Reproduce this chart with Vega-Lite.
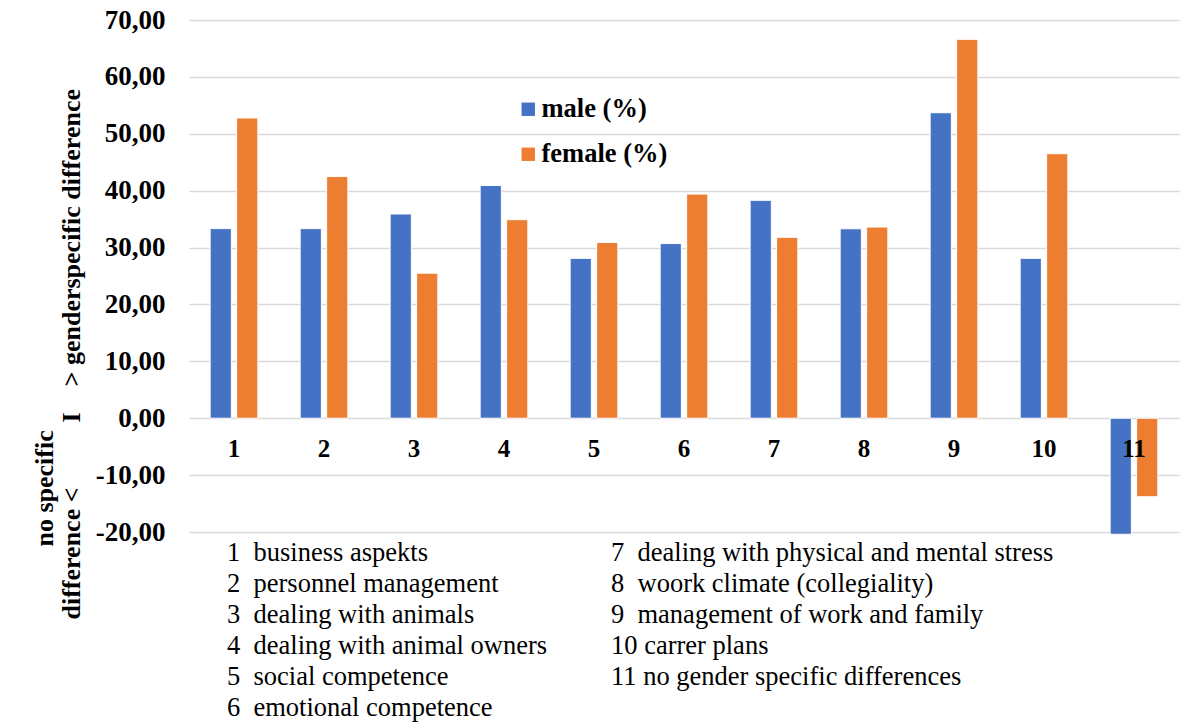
{
  "$schema": "https://vega.github.io/schema/vega-lite/v6.json",
  "background": "white",
  "padding": {"left": 31, "top": 6, "right": 10, "bottom": 0},
  "autosize": {"type": "pad"},
  "spacing": 0,
  "bounds": "flush",
  "config": {"view": {"stroke": null}, "font": "'Liberation Serif', 'Times New Roman', serif"},
  "datasets": {
    "bars": [
      {"cat": "1", "gender": "male (%)", "value": 33.33},
      {"cat": "1", "gender": "female (%)", "value": 52.78},
      {"cat": "2", "gender": "male (%)", "value": 33.33},
      {"cat": "2", "gender": "female (%)", "value": 42.5},
      {"cat": "3", "gender": "male (%)", "value": 35.9},
      {"cat": "3", "gender": "female (%)", "value": 25.5},
      {"cat": "4", "gender": "male (%)", "value": 40.9},
      {"cat": "4", "gender": "female (%)", "value": 34.9},
      {"cat": "5", "gender": "male (%)", "value": 28.1},
      {"cat": "5", "gender": "female (%)", "value": 30.9},
      {"cat": "6", "gender": "male (%)", "value": 30.7},
      {"cat": "6", "gender": "female (%)", "value": 39.4},
      {"cat": "7", "gender": "male (%)", "value": 38.3},
      {"cat": "7", "gender": "female (%)", "value": 31.8},
      {"cat": "8", "gender": "male (%)", "value": 33.3},
      {"cat": "8", "gender": "female (%)", "value": 33.6},
      {"cat": "9", "gender": "male (%)", "value": 53.7},
      {"cat": "9", "gender": "female (%)", "value": 66.6},
      {"cat": "10", "gender": "male (%)", "value": 28.1},
      {"cat": "10", "gender": "female (%)", "value": 46.5},
      {"cat": "11", "gender": "male (%)", "value": -20.4},
      {"cat": "11", "gender": "female (%)", "value": -13.8}
    ],
    "notes": [
      {"col": 0, "row": 0, "label": "1\u00a0\u00a0business aspekts"},
      {"col": 0, "row": 1, "label": "2\u00a0\u00a0personnel management"},
      {"col": 0, "row": 2, "label": "3\u00a0\u00a0dealing with animals"},
      {"col": 0, "row": 3, "label": "4\u00a0\u00a0dealing with animal owners"},
      {"col": 0, "row": 4, "label": "5\u00a0\u00a0social competence"},
      {"col": 0, "row": 5, "label": "6\u00a0\u00a0emotional competence"},
      {"col": 1, "row": 0, "label": "7\u00a0\u00a0dealing with physical and mental stress"},
      {"col": 1, "row": 1, "label": "8\u00a0\u00a0woork climate (collegiality)"},
      {"col": 1, "row": 2, "label": "9\u00a0\u00a0management of work and family"},
      {"col": 1, "row": 3, "label": "10 carrer plans"},
      {"col": 1, "row": 4, "label": "11 no gender specific differences"}
    ]
  },
  "vconcat": [
    {
      "width": 990,
      "height": 512,
      "data": {"name": "bars"},
      "layer": [
        {
          "mark": {"type": "bar", "stroke": "white", "strokeWidth": 1},
          "encoding": {
            "x": {"field": "cat", "type": "ordinal", "sort": null, "scale": {"paddingInner": 0.47, "paddingOuter": 0.235}, "axis": null},
            "xOffset": {"field": "gender", "type": "nominal", "sort": ["male (%)", "female (%)"], "scale": {"paddingInner": 0.2}},
            "y": {
              "field": "value", "type": "quantitative",
              "scale": {"domain": [-20, 70], "nice": false},
              "axis": {
                "values": [-20, -10, 0, 10, 20, 30, 40, 50, 60, 70],
                "grid": true, "gridColor": "#d9d9d9", "gridWidth": 1.5,
                "domain": false, "ticks": false,
                "labelPadding": 24, "labelFlush": false, "labelOverlap": false, "labelBound": false,
                "labelFont": "'Liberation Serif', 'Times New Roman', serif", "labelFontSize": 27, "labelFontWeight": "bold", "labelColor": "black",
                "labelExpr": "replace(replace(format(datum.value, '.2f'), '.', ','), '\u2212', '-')",
                "title": "difference <\u00a0\u00a0\u00a0\u00a0\u00a0\u00a0\u00a0\u00a0\u00a0\u00a0I\u00a0\u00a0\u00a0\u00a0> genderspecific difference",
                "titleFont": "'Liberation Serif', 'Times New Roman', serif", "titleFontSize": 26, "titleFontWeight": "bold", "titleColor": "black",
                "titleAngle": -90, "titleAlign": "left", "titleBaseline": "alphabetic",
                "titleX": -110, "titleY": 599
              }
            },
            "color": {
              "field": "gender", "type": "nominal",
              "scale": {"domain": ["male (%)", "female (%)"], "range": ["#4472C4", "#ED7D31"]},
              "legend": {
                "orient": "none", "legendX": 326, "legendY": 76, "title": null,
                "symbolType": "square", "symbolSize": 180, "symbolStrokeWidth": 0,
                "labelFont": "'Liberation Serif', 'Times New Roman', serif", "labelFontSize": 26.5, "labelFontWeight": "bold", "labelColor": "black",
                "labelOffset": 0, "rowPadding": 18, "labelLimit": 300
              }
            }
          }
        },
        {
          "transform": [{"filter": "datum.gender == 'male (%)'"}],
          "mark": {"type": "text", "font": "'Liberation Serif', 'Times New Roman', serif", "fontWeight": "bold", "fontSize": 25, "color": "black", "baseline": "middle", "dy": 31},
          "encoding": {
            "x": {"field": "cat", "type": "ordinal", "sort": null},
            "y": {"datum": 0},
            "text": {"field": "cat"}
          }
        }
      ]
    },
    {
      "width": 990,
      "height": 195,
      "data": {"name": "notes"},
      "mark": {"type": "text", "font": "'Liberation Serif', 'Times New Roman', serif", "align": "left", "baseline": "alphabetic", "fontSize": 26.5, "color": "black"},
      "encoding": {
        "x": {"field": "col", "type": "quantitative", "scale": {"domain": [0, 1], "range": [38, 422]}, "axis": null},
        "y": {
          "field": "row", "type": "quantitative", "scale": {"domain": [0, 5], "range": [29, 184]},
          "axis": {
            "title": "no specific", "labels": false, "ticks": false, "domain": false, "grid": false,
            "titleFont": "'Liberation Serif', 'Times New Roman', serif", "titleFontSize": 26, "titleFontWeight": "bold", "titleColor": "black",
            "titleAngle": -90, "titleAlign": "left", "titleBaseline": "alphabetic",
            "titleX": -137, "titleY": 14
          }
        },
        "text": {"field": "label"}
      }
    }
  ]
}
